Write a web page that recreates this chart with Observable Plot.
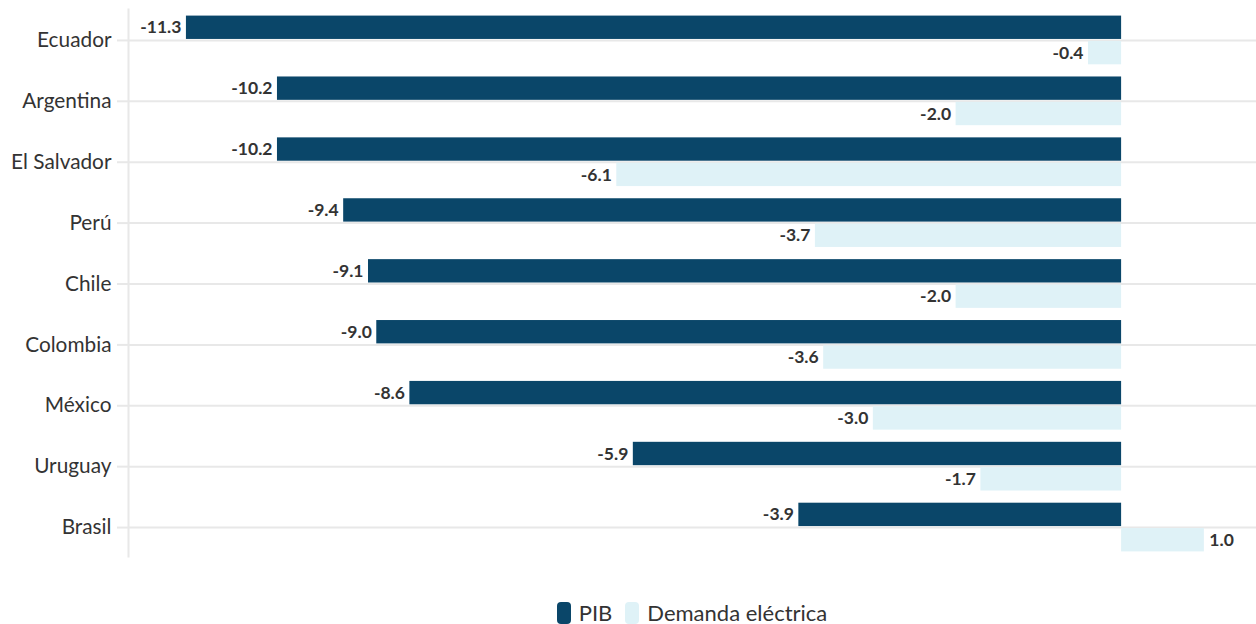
<!DOCTYPE html>
<html>
<head>
<meta charset="utf-8">
<script src="https://cdn.jsdelivr.net/npm/d3@7"></script>
<script src="https://cdn.jsdelivr.net/npm/@observablehq/plot@0.6"></script>
<style>
  body { margin: 0; background: #fff; font-family: "Lato", "Open Sans", sans-serif; }
  #chart { width: 1256px; }
  .legend { display: flex; justify-content: center; align-items: center; gap: 13px; margin-top: 17px; padding-left: 128px; font-size: 22px; color: #333; }
  .legend .item { display: flex; align-items: center; gap: 8px; }
  .legend .sw { width: 14px; height: 22px; border-radius: 4px; display: inline-block; }
</style>
</head>
<body>
<div id="chart"></div>
<script>
const countries = ["Ecuador", "Argentina", "El Salvador", "Perú", "Chile", "Colombia", "México", "Uruguay", "Brasil"];
const pib = [-11.3, -10.2, -10.2, -9.4, -9.1, -9.0, -8.6, -5.9, -3.9];
const demanda = [-0.4, -2.0, -6.1, -3.7, -2.0, -3.6, -3.0, -1.7, 1.0];
const seriesNames = ["PIB", "Demanda eléctrica"];
const seriesColors = ["#0a4669", "#dff2f7"];

const pibData = countries.map((c, i) => ({country: c, value: pib[i]}));
const demData = countries.map((c, i) => ({country: c, value: demanda[i]}));

const H = 582;
const y0 = 9.5, y1 = 557.5;
const marginTop = y0, marginBottom = H - y1;
const step = (y1 - y0) / 9;
const bw = step * 0.8;
const half = bw / 2 + 1;
const labelOff = (bw / 2 - 1) / 2 + 1;

const fmt = v => d3.format(".1f")(v).replace("−", "-");
const labelFont = {fontWeight: "bold", fontSize: 17.5, fill: "#333"};

function labels(data, dy) {
  return [
    Plot.text(data.filter(d => d.value < 0), {
      x: "value", y: "country", text: d => fmt(d.value),
      textAnchor: "end", dx: -5, dy, ...labelFont
    }),
    Plot.text(data.filter(d => d.value >= 0), {
      x: "value", y: "country", text: d => fmt(d.value),
      textAnchor: "start", dx: 5, dy, ...labelFont
    })
  ];
}

const plot = Plot.plot({
  width: 1256,
  height: H,
  marginTop, marginBottom,
  marginLeft: 128, marginRight: 0,
  style: {fontFamily: "Lato, 'Open Sans', sans-serif", background: "#fff"},
  x: {domain: [-12, 1.63], axis: null},
  y: {domain: countries, paddingInner: 0.2, paddingOuter: 0.1, round: false, label: null},
  marks: [
    Plot.gridY({x1: -12, x2: 1.63, stroke: "#e8e8e8", strokeOpacity: 1, strokeWidth: 2}),
    Plot.axisY({tickSize: 11, tickPadding: 6, fontSize: 20.8, color: "#333", stroke: "#e8e8e8", strokeWidth: 2, label: null}),
    Plot.ruleX([-12], {stroke: "#e8e8e8", strokeWidth: 2, insetTop: -1}),
    Plot.barX(pibData, {x: "value", y: "country", fill: seriesColors[0], insetBottom: half}),
    Plot.barX(demData, {x: "value", y: "country", fill: seriesColors[1], insetTop: half}),
    ...labels(pibData, -labelOff),
    ...labels(demData, labelOff)
  ]
});

document.getElementById("chart").appendChild(plot);

const legend = document.createElement("div");
legend.className = "legend";
seriesNames.forEach((n, i) => {
  const it = document.createElement("span");
  it.className = "item";
  const sw = document.createElement("span");
  sw.className = "sw";
  sw.style.background = seriesColors[i];
  const lb = document.createElement("span");
  lb.textContent = n;
  it.appendChild(sw); it.appendChild(lb);
  legend.appendChild(it);
});
document.getElementById("chart").appendChild(legend);
</script>
</body>
</html>
